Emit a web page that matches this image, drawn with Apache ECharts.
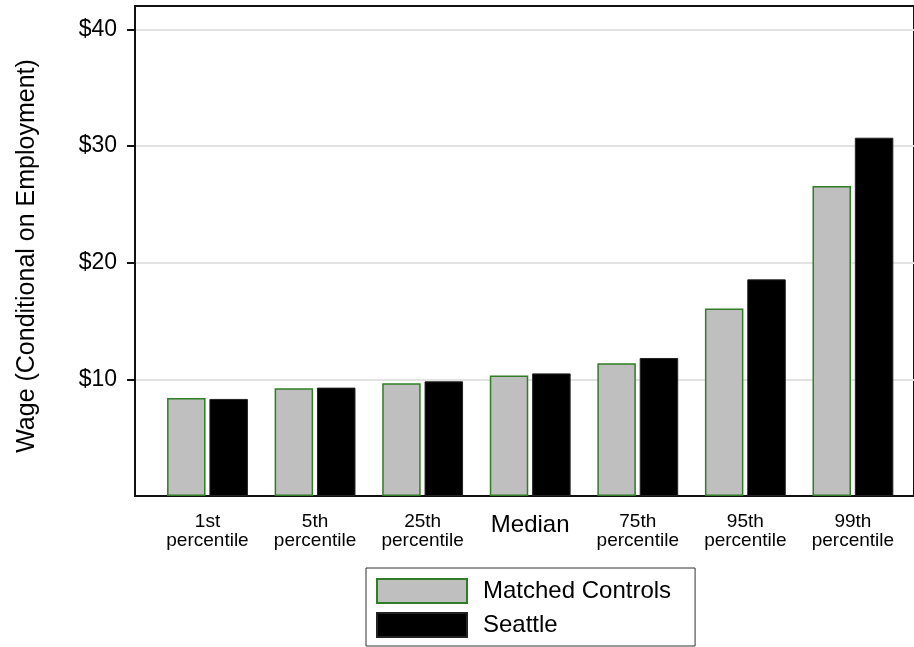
<!DOCTYPE html>
<html>
<head>
<meta charset="utf-8">
<script src="https://cdn.jsdelivr.net/npm/echarts@6/dist/echarts.min.js"></script>
<style>html,body{margin:0;padding:0;background:#fff}#c{width:914px;height:647px}</style>
</head>
<body>
<div id="c"></div>
<script>
const categories = ['1st\npercentile', '5th\npercentile', '25th\npercentile', 'Median', '75th\npercentile', '95th\npercentile', '99th\npercentile'];
const matchedControls = [8.41, 9.23, 9.66, 10.32, 11.37, 16.08, 26.57];
const seattle = [8.32, 9.29, 9.83, 10.51, 11.83, 18.57, 30.71];
const yTicks = [10, 20, 30, 40];

const FONT = '"Liberation Sans", Arial, Helvetica, sans-serif';
const chart = echarts.init(document.getElementById('c'), null, {renderer: 'canvas'});
const yMax = 42;
chart.setOption({
  animation: false,
  textStyle: {fontFamily: FONT, color: '#000'},
  grid: [
    {left: 135, top: 6, right: -20, bottom: 151, show: true, borderColor: '#111', borderWidth: 2, backgroundColor: '#fff'},
    {left: 153.7, top: 6, width: 753, bottom: 151}
  ],
  xAxis: [
    {gridIndex: 0, type: 'value', min: 0, max: 1, axisLine: {show: true, lineStyle: {color: '#111', width: 2}}, axisTick: {show: false}, axisLabel: {show: false}, splitLine: {show: false}},
    {gridIndex: 1, type: 'category', data: categories, boundaryGap: true,
     axisLine: {show: false}, axisTick: {show: false},
     axisLabel: {interval: 0, margin: 16, color: '#000',
       formatter: function (v) { return v === 'Median' ? '{big|' + v + '}' : '{s|' + v + '}'; },
       rich: {
         s: {fontSize: 19, lineHeight: 19, fontFamily: FONT, color: '#000'},
         big: {fontSize: 24, lineHeight: 26, fontFamily: FONT, color: '#000', padding: [1, 0, 0, 0]}
       }}}
  ],
  yAxis: [
    {gridIndex: 0, type: 'value', min: 0, max: yMax, interval: 10,
     name: 'Wage (Conditional on Employment)', nameLocation: 'middle', nameGap: 95,
     nameTextStyle: {fontSize: 25, color: '#000', fontFamily: FONT, padding: [0, 10, 0, 0]},
     axisLine: {show: true, lineStyle: {color: '#111', width: 2}},
     axisTick: {show: true, length: 8, lineStyle: {color: '#111', width: 2},
       customValues: yTicks},
     axisLabel: {fontSize: 23, color: '#000', margin: 18, fontFamily: FONT,
       customValues: yTicks,
       formatter: function (v) { return yTicks.indexOf(v) >= 0 ? '$' + v : ''; }},
     splitLine: {show: true, lineStyle: {color: '#e2e2e2', width: 2}}},
    {gridIndex: 1, type: 'value', min: 0, max: yMax, show: false, splitLine: {show: false}}
  ],
  legend: {
    left: 366, top: 568, height: 120, orient: 'vertical',
    padding: [10, 24, 8, 10], itemGap: 8, itemWidth: 90, itemHeight: 24,
    borderColor: '#333', borderWidth: 1, backgroundColor: '#fff',
    icon: 'rect',
    textStyle: {fontSize: 24, color: '#000', fontFamily: FONT, padding: [0, 0, 0, 11]},
    data: ['Matched Controls', 'Seattle']
  },
  series: [
    {name: 'Matched Controls', type: 'bar', xAxisIndex: 1, yAxisIndex: 1, data: matchedControls,
     barWidth: 38.5, barGap: '10%',
     itemStyle: {color: '#bfbfbf', borderColor: '#2f7d24', borderWidth: 1.5}},
    {name: 'Seattle', type: 'bar', xAxisIndex: 1, yAxisIndex: 1, data: seattle,
     barWidth: 38.5, barGap: '10%',
     itemStyle: {color: '#000', borderColor: '#222', borderWidth: 1}}
  ]
});
</script>
</body>
</html>
